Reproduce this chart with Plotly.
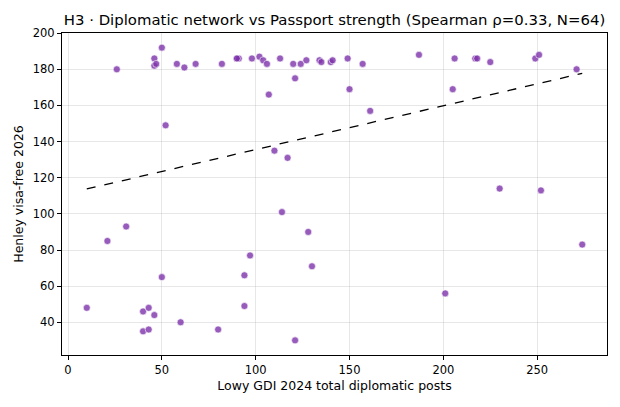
import numpy as np
import plotly.graph_objects as go

# Lowy GDI 2024 total diplomatic posts
gdi_posts = [10, 21, 31, 40, 43, 46, 40, 43, 50, 60, 80, 94, 94, 97, 114, 128,
             130, 121, 201, 274, 230, 252, 149, 157, 150, 161, 187, 206, 205, 217,
             218, 225, 249, 251, 271, 26, 46, 46, 47, 50, 52, 58, 62, 68, 82, 90,
             91, 98, 102, 104, 106, 107, 113, 110, 117, 120, 121, 124, 127, 134,
             135, 140, 141, 90]

# Henley visa-free destinations 2026
visa_free = [48, 85, 93, 46, 48, 44, 35, 36, 65, 40, 36, 66, 49, 77, 101, 90,
             71, 30, 56, 83, 114, 113, 186, 183, 169, 157, 188, 186, 169, 186,
             186, 184, 186, 188, 180, 180, 186, 182, 183, 192, 149, 183, 181, 183, 183, 186,
             186, 186, 187, 185, 183, 166, 186, 135, 131, 183, 175, 183, 185, 185,
             184, 184, 185, 186]

x_ticks = [0, 50, 100, 150, 200, 250]
y_ticks = [40, 60, 80, 100, 120, 140, 160, 180, 200]

title = "H3 · Diplomatic network vs Passport strength (Spearman ρ=0.33, N=64)"

x = np.array(gdi_posts, dtype=float)
y = np.array(visa_free, dtype=float)
slope, intercept = np.polyfit(x, y, 1)
xs = np.array([x.min(), x.max()])

fig = go.Figure()
fig.add_trace(go.Scatter(
    x=x, y=y, mode="markers",
    marker=dict(size=7, color="rgba(125, 50, 170, 0.8)",
                line=dict(width=0.6, color="white")),
    showlegend=False,
))
fig.add_trace(go.Scatter(
    x=xs, y=slope * xs + intercept, mode="lines",
    line=dict(color="black", width=1.3, dash="dash"),
    showlegend=False,
))

pad_x = (x.max() - x.min()) * 0.05
pad_y = (y.max() - y.min()) * 0.05

# page body has an 8px margin, so the figure is 8px smaller than the window
fig.update_layout(
    width=612, height=399,
    margin=dict(l=54, r=13, t=25, b=52),
    plot_bgcolor="white", paper_bgcolor="white",
    font=dict(family="DejaVu Sans", size=11.5, color="black"),
    title=dict(text=title, x=0.5, xref="paper", xanchor="center",
               y=1 - 12 / 399, yanchor="middle", font=dict(size=14.9)),
)
fig.update_xaxes(
    range=[x.min() - pad_x, x.max() + pad_x], tickvals=x_ticks, automargin=False,
    title=dict(text="Lowy GDI 2024 total diplomatic posts", standoff=5,
               font=dict(size=12.5)),
    showline=True, linewidth=1, linecolor="black", mirror=True,
    ticks="outside", ticklen=4, tickcolor="black",
    showgrid=True, gridwidth=1, gridcolor="rgba(176,176,176,0.3)", zeroline=False,
)
fig.update_yaxes(
    range=[y.min() - pad_y, y.max() + pad_y], tickvals=y_ticks, automargin=False,
    title=dict(text="Henley visa-free 2026", standoff=6, font=dict(size=12.5)),
    showline=True, linewidth=1, linecolor="black", mirror=True,
    ticks="outside", ticklen=4, tickcolor="black",
    showgrid=True, gridwidth=1, gridcolor="rgba(176,176,176,0.3)", zeroline=False,
)

fig.write_html("out.html")
